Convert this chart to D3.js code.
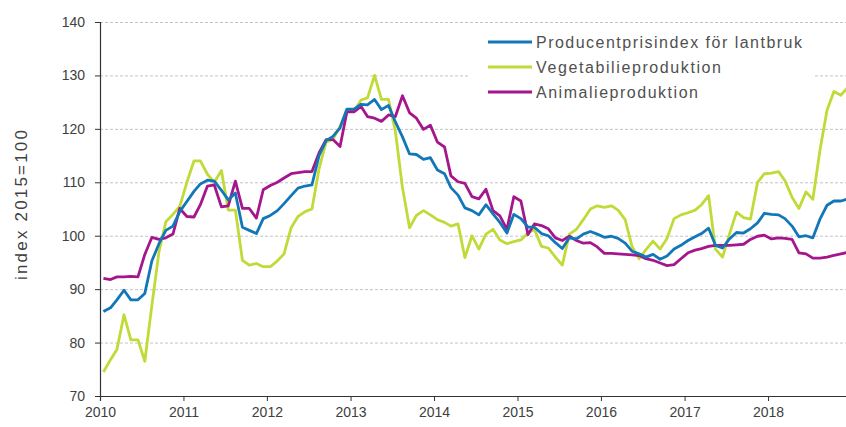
<!DOCTYPE html>
<html>
<head>
<meta charset="utf-8">
<script src="https://cdn.jsdelivr.net/npm/d3@7"></script>
<style>
  body { margin: 0; background: #fff; }
  svg { display: block; font-family: "Liberation Sans", Arial, sans-serif; }
</style>
</head>
<body>
<div class="ppi-chart"></div>
<script>

// monthly index values, Jan 2010 - Dec 2018
var ppiValues = [85.8, 86.5, 88, 89.8, 88, 88, 89.2, 95.3, 98.5, 101, 101.8, 104.5,
  106.4, 108.3, 109.7, 110.4, 110.2, 108.5, 106.7, 108, 101.6, 101, 100.4, 103.2,
  103.8, 104.7, 106, 107.5, 108.9, 109.3, 109.5, 115, 117.8, 118.6, 120.2, 123.7,
  123.7, 124.6, 124.5, 125.5, 123.6, 124.4, 121.3, 118.5, 115.3, 115.2, 114.3, 114.6,
  112.3, 111.6, 109, 107.6, 105.2, 104.7, 103.9, 105.8, 104.1, 102.5, 100.5, 104,
  103.2, 101.6, 101.6, 100.4, 100, 98.7, 97.6, 99.6, 99.4, 100.3, 100.8, 100.3,
  99.7, 99.9, 99.5, 98.6, 97.1, 96.6, 96, 96.5, 95.6, 96.2, 97.5, 98.2,
  99.1, 99.8, 100.4, 101.4, 98.2, 97.7, 99.4, 100.6, 100.5, 101.3, 102.4, 104.2,
  104, 103.9, 103.2, 101.8, 99.8, 100, 99.6, 103.1, 105.7, 106.5, 106.5, 106.9];

var vegValues = [74.5, 76.8, 78.7, 85.2, 80.5, 80.5, 76.5, 87, 97, 102.6, 104, 105.5,
  110, 114, 114, 111.5, 110, 112.2, 104.8, 104.8, 95.4, 94.5, 94.8, 94.2,
  94.2, 95.3, 96.6, 101.5, 103.6, 104.5, 105, 112.5, 117.5, 118, 120.5, 123.5,
  123.3, 125.4, 125.8, 130, 125.5, 125.5, 119.5, 109, 101.5, 103.8, 104.7, 103.9,
  103, 102.5, 101.8, 102.2, 95.9, 100, 97.5, 100.3, 101.2, 99.2, 98.5, 98.9,
  99.2, 100.5, 101.2, 98, 97.7, 96, 94.5, 100.3, 101.2, 103, 105, 105.6,
  105.3, 105.6, 104.8, 103, 98, 95.7, 97.4, 99, 97.5, 99.5, 103.2, 103.9,
  104.3, 104.8, 105.8, 107.5, 97.5, 96, 100.3, 104.4, 103.4, 103.1, 110, 111.6,
  111.7, 112, 110.3, 107.2, 105.1, 108.2, 106.8, 116, 123.5, 127, 126.3, 127.8];

var animValues = [92, 91.8, 92.3, 92.3, 92.4, 92.3, 96.5, 99.7, 99.3, 99.6, 100.3, 105.1,
  103.6, 103.5, 105.8, 109.3, 109.5, 105.4, 105.6, 110.2, 105.1, 105.1, 103.3, 108.6,
  109.4, 110, 110.8, 111.6, 111.8, 112, 112, 115.5, 118, 118, 116.7, 123.2,
  123.2, 124.2, 122.3, 122, 121.4, 122.6, 122.3, 126.2, 123, 122, 119.9, 120.7,
  117.5, 116.6, 111.2, 110.1, 109.8, 107.3, 106.9, 108.7, 104.7, 103.7, 101.2, 107.3,
  106.5, 100.2, 102.2, 101.9, 101.3, 99.6, 99.1, 99.9, 99.1, 98.6, 98.7, 97.9,
  96.7, 96.7, 96.6, 96.5, 96.4, 96.3, 95.7, 95.4, 94.9, 94.4, 94.6, 95.7,
  96.8, 97.3, 97.6, 98, 98.2, 98.2, 98.2, 98.3, 98.4, 99.3, 99.9, 100.1,
  99.4, 99.6, 99.5, 99.3, 96.8, 96.6, 95.8, 95.8, 96, 96.3, 96.6, 96.9];

var seriesNames = ["Producentprisindex för lantbruk", "Vegetabilieproduktion", "Animalieproduktion"];
var seriesColors = ["#1277b8", "#c0da38", "#a5168d"];
var yearLabels = ["2010", "2011", "2012", "2013", "2014", "2015", "2016", "2017", "2018"];
var yTicks = [70, 80, 90, 100, 110, 120, 130, 140];
var yTitle = "index 2015=100";

var width = 846, height = 427;
var margin = {top: 22, right: 0, bottom: 31, left: 100};

var svg = d3.select(".ppi-chart")
  .append("svg")
    .attr("width", width)
    .attr("height", height);

var x = d3.scaleTime()
  .domain([new Date(2010, 0, 1), new Date(2019, 0, 1)])
  .range([margin.left, 851.5]);

var y = d3.scaleLinear()
  .domain([70, 140])
  .range([height - margin.bottom, margin.top]);

// month dates at middle of each month
function monthDate(i) { return new Date(2010, i, 16); }

// gridlines
svg.append("g")
  .selectAll("line")
  .data(yTicks.filter(function(d) { return d > 70; }))
  .enter()
  .append("line")
    .attr("x1", margin.left)
    .attr("x2", width)
    .attr("y1", function(d) { return y(d) + 0.5; })
    .attr("y2", function(d) { return y(d) + 0.5; })
    .attr("stroke", "#c4c4c4")
    .attr("stroke-dasharray", "3,2");

svg.append("clipPath").attr("id", "plotclip")
  .append("rect")
    .attr("x", margin.left)
    .attr("y", 0)
    .attr("width", width - margin.left)
    .attr("height", height - margin.bottom);

var line = d3.line()
  .x(function(d, i) { return x(monthDate(i)); })
  .y(function(d) { return y(d); });

var allSeries = [ppiValues, vegValues, animValues];

// draw order: green first, then magenta, blue on top
[1, 2, 0].forEach(function(k) {
  svg.append("path")
    .datum(allSeries[k])
    .attr("clip-path", "url(#plotclip)")
    .attr("fill", "none")
    .attr("stroke", seriesColors[k])
    .attr("stroke-width", 2.8)
    .attr("stroke-linejoin", "round")
    .attr("d", line);
});

// axes
var yAxis = svg.append("g")
  .attr("transform", "translate(" + margin.left + ",0)")
  .call(d3.axisLeft(y).tickValues(yTicks).tickSize(5).tickPadding(10));

var xAxis = svg.append("g")
  .attr("transform", "translate(0," + (height - margin.bottom) + ")")
  .call(d3.axisBottom(x)
    .ticks(d3.timeYear.every(1))
    .tickFormat(function(d, i) { return yearLabels[i]; })
    .tickSize(5)
    .tickPadding(6));

xAxis.selectAll(".tick").filter(function(d) { return d.getFullYear() > 2018; }).remove();

[yAxis, xAxis].forEach(function(ax) {
  ax.select(".domain").attr("stroke", "#333").attr("stroke-width", 1.2);
  ax.selectAll(".tick line").attr("stroke", "#333");
  ax.selectAll("text")
    .attr("fill", "#404040")
    .style("font-size", "14px")
    .style("font-family", "Liberation Sans, Arial, sans-serif");
});

svg.append("text")
  .attr("transform", "translate(27," + 205 + ") rotate(-90)")
  .attr("text-anchor", "middle")
  .attr("fill", "#404040")
  .attr("textLength", 150)
  .style("font-size", "17px")
  .text(yTitle);

// legend
var legend = svg.append("g");

legend.append("rect")
  .attr("x", 470)
  .attr("y", 28)
  .attr("width", 343)
  .attr("height", 77)
  .attr("fill", "#fff");

var legendLengths = [266, 185, 162];

seriesNames.forEach(function(name, k) {
  var ly = 42 + k * 25;
  legend.append("line")
    .attr("x1", 488)
    .attr("x2", 532)
    .attr("y1", ly)
    .attr("y2", ly)
    .attr("stroke", seriesColors[k])
    .attr("stroke-width", 2.8);
  legend.append("text")
    .attr("x", 536)
    .attr("y", ly + 6)
    .attr("fill", "#505050")
    .attr("textLength", legendLengths[k])
    .style("font-size", "16px")
    .text(name);
});

</script>
</body>
</html>
